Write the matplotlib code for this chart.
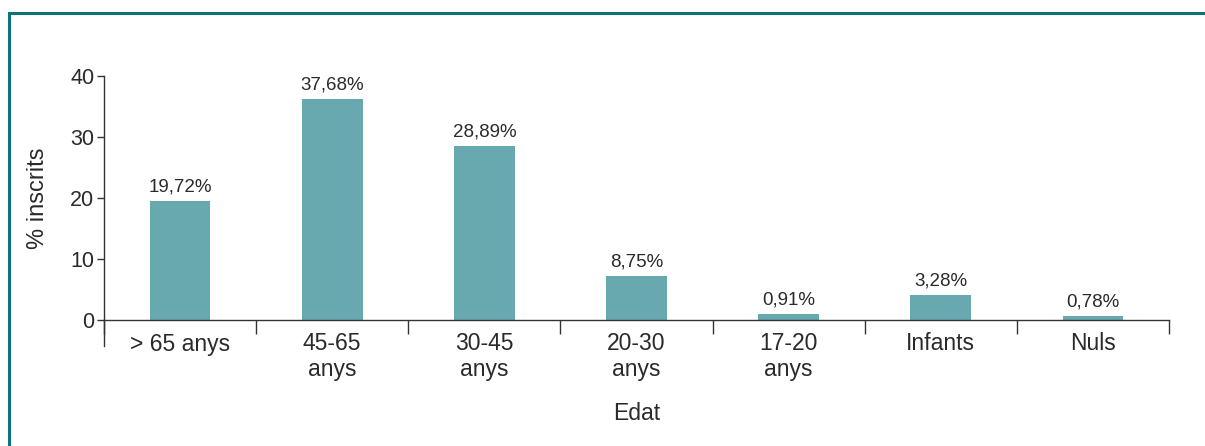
import matplotlib.pyplot as plt
from matplotlib.lines import Line2D

# Dades
categories = ['> 65 anys', '45-65\nanys', '30-45\nanys', '20-30\nanys', '17-20\nanys', 'Infants', 'Nuls']
alcada = [19.5, 36.2, 28.5, 7.2, 1.0, 4.1, 0.7]  # alçada de les barres tal com es veu
etiquetes = ['19,72%', '37,68%', '28,89%', '8,75%', '0,91%', '3,28%', '0,78%']
yticks = [0, 10, 20, 30, 40]

plt.rcParams['font.family'] = ['Liberation Sans', 'DejaVu Sans']
W, H = 1205, 446
fig = plt.figure(figsize=(W / 100, H / 100), dpi=100)

# marc verd (esquerra i dalt)
marc = '#0e7377'
fig.add_artist(Line2D([9 / W, 9 / W], [0, 1 - 13 / H], color=marc, lw=2.2))
fig.add_artist(Line2D([9 / W, 1], [1 - 13 / H, 1 - 13 / H], color=marc, lw=2.2))

x0, x1, yb, yt = 104, 1169, 320, 76
ax = fig.add_axes([x0 / W, 1 - yb / H, (x1 - x0) / W, (yb - yt) / H])

txt = '#2a2a2a'
pos = list(range(len(categories)))
ax.bar(pos, alcada, width=0.4, color='#67a9ae')
for p, h, t in zip(pos, alcada, etiquetes):
    ax.text(p, h + 0.9, t, ha='center', va='bottom', fontsize=13.5, color=txt)

ax.set_xlim(-0.5, len(categories) - 0.5)
ax.set_ylim(0, 40)
ax.set_yticks(yticks)
ax.set_xticks(pos)
ax.set_xticklabels(categories, fontsize=16.5, color=txt, linespacing=1.15)
ax.set_xticks([p - 0.5 for p in pos] + [len(categories) - 0.5], minor=True)
ax.tick_params(axis='x', which='major', length=0, pad=9)
ax.tick_params(axis='x', which='minor', length=10, width=1, color='#333333')
ax.tick_params(axis='y', labelsize=15.5, length=5, width=1, pad=2, color='#333333', labelcolor=txt)

for s in ['top', 'right']:
    ax.spines[s].set_visible(False)
for s in ['left', 'bottom']:
    ax.spines[s].set_color('#333333')
    ax.spines[s].set_linewidth(1)
# allargament de l'eix vertical per sota
ax.plot([0, 0], [0, -26 / (yb - yt)], transform=ax.transAxes, color='#333333', lw=1, clip_on=False)

ax.set_ylabel('% inscrits', fontsize=17, color=txt, labelpad=15)
ax.set_xlabel('Edat', fontsize=16.5, color=txt, labelpad=15)

plt.savefig('out.png', dpi=100)
